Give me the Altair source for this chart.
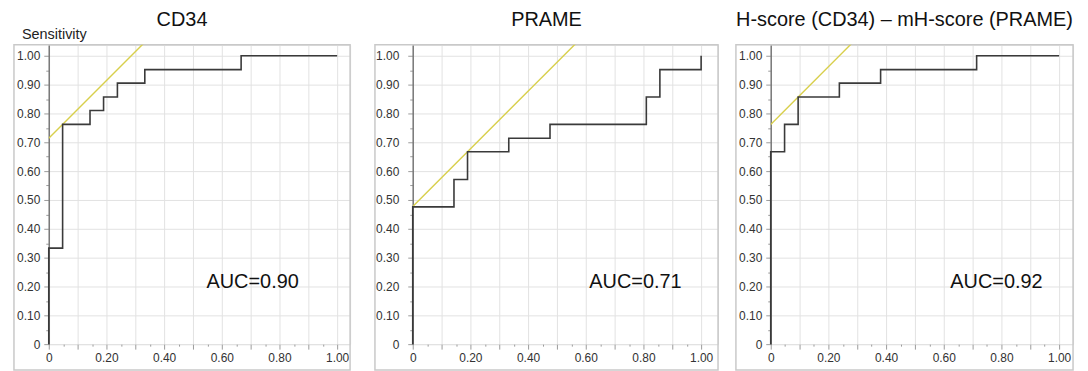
import altair as alt
import pandas as pd

# ---------------- data ----------------
titles = ["CD34", "PRAME", "H-score (CD34) \u2013 mH-score (PRAME)"]
auc_labels = ["AUC=0.90", "AUC=0.71", "AUC=0.92"]

# ROC points (1 - specificity, sensitivity)
cd34_fpr = [0, 0, 0.048, 0.143, 0.190, 0.238, 0.333, 0.667, 1.0]
cd34_tpr = [0, 0.333, 0.762, 0.810, 0.857, 0.905, 0.952, 1.0, 1.0]
prame_fpr = [0, 0, 0.143, 0.190, 0.333, 0.476, 0.810, 0.857, 1.0]
prame_tpr = [0, 0.476, 0.571, 0.667, 0.714, 0.762, 0.857, 0.952, 1.0]
combo_fpr = [0, 0, 0.048, 0.095, 0.238, 0.381, 0.714, 1.0]
combo_tpr = [0, 0.667, 0.762, 0.857, 0.905, 0.952, 1.0, 1.0]

# optimal cut-off points (tangent line of slope 1)
cut_fpr = [0.048, 0.190, 0.095]
cut_tpr = [0.762, 0.667, 0.857]

tick_values = [0, 0.05, 0.1, 0.15, 0.2, 0.25, 0.3, 0.35, 0.4, 0.45, 0.5,
               0.55, 0.6, 0.65, 0.7, 0.75, 0.8, 0.85, 0.9, 0.95, 1.0]

# ---------------- styling ----------------
FONT = "Liberation Sans"
PX_PER_UNIT = 290.0
H = 301
FRAME_BOTTOM = 327
FRAME_COLOR = "#c9c9c9"
GRID_COLOR = "#e2e2e2"

panel_widths = [303, 307, 304]
frame_offsets = [35, 38, 35]
label_pads = [4, 9, 4]
auc_pos = [(205, 239), (224, 239), (227, 239)]

minor_test = "round(datum.value*100) % 10 != 0"


def make_panel(k, fpr, tpr):
    W = panel_widths[k]
    off = frame_offsets[k]
    xdom = [0, W / PX_PER_UNIT]
    ydom = [0, H / PX_PER_UNIT]

    x_axis = alt.Axis(
        values=tick_values,
        labelExpr="(round(datum.value*100) % 20 == 0) ? (datum.value == 0 ? '0' : format(datum.value, '.2f')) : ''",
        domain=False,
        grid=True,
        gridColor=GRID_COLOR,
        gridWidth=1,
        gridOpacity={"condition": {"test": minor_test, "value": 0}, "value": 1},
        tickColor="#9a9a9a",
        tickWidth=1,
        tickSize={"condition": {"test": minor_test, "value": 2}, "value": 5},
        labelFont=FONT,
        labelFontSize=12,
        labelColor="#333333",
        labelPadding=3,
        labelFlush=False,
        labelOverlap=False,
        title=None,
    )
    y_axis = alt.Axis(
        values=tick_values,
        labelExpr="(round(datum.value*100) % 10 == 0) ? (datum.value == 0 ? '0' : format(datum.value, '.2f')) : ''",
        domain=True,
        domainColor="#7a7a7a",
        domainWidth=1.5,
        grid=True,
        gridColor=GRID_COLOR,
        gridWidth=1,
        gridOpacity={"condition": {"test": minor_test, "value": 0}, "value": 1},
        tickColor="#9a9a9a",
        tickWidth=1,
        tickSize={"condition": {"test": minor_test, "value": 3}, "value": 5},
        labelFont=FONT,
        labelFontSize=12,
        labelColor="#333333",
        labelPadding=label_pads[k],
        labelFlush=False,
        labelOverlap=False,
        title=None,
    )

    xs = alt.X("fpr:Q", scale=alt.Scale(domain=xdom, nice=False, zero=False), axis=x_axis)
    ys = alt.Y("tpr:Q", scale=alt.Scale(domain=ydom, nice=False, zero=False), axis=y_axis)

    roc = pd.DataFrame({"fpr": fpr, "tpr": tpr, "i": list(range(len(fpr)))})
    b = cut_tpr[k] - cut_fpr[k]
    tangent = pd.DataFrame({"fpr": [0.0, 1.0], "tpr": [b, 1.0 + b]})

    one = pd.DataFrame({"t": [titles[k]], "a": [auc_labels[k]]})

    frame = alt.Chart(one).mark_rect(fillOpacity=0, stroke=FRAME_COLOR, strokeWidth=1.5).encode(
        x=alt.value(-off), x2=alt.value(W), y=alt.value(0), y2=alt.value(FRAME_BOTTOM)
    )
    tangent_line = alt.Chart(tangent).mark_line(color="#d8cf4c", strokeWidth=1.4, clip=True).encode(
        x=xs, y=ys
    )
    step = alt.Chart(roc).mark_line(interpolate="step-after", color="#3a3a3a", strokeWidth=1.6).encode(
        x=xs, y=ys, order="i:Q"
    )
    title_txt = alt.Chart(one).mark_text(
        font=FONT, fontSize=20, color="#111111", align="center", baseline="top"
    ).encode(x=alt.value((W - off) / 2), y=alt.value(-35), text="t:N")
    auc_txt = alt.Chart(one).mark_text(
        font=FONT, fontSize=20, color="#111111", align="center", baseline="middle"
    ).encode(x=alt.value(auc_pos[k][0]), y=alt.value(auc_pos[k][1]), text="a:N")

    layers = [frame, tangent_line, step, title_txt, auc_txt]
    if k == 0:
        sens = alt.Chart(pd.DataFrame({"s": ["Sensitivity"]})).mark_text(
            font=FONT, fontSize=14.5, color="#222222", align="left", baseline="alphabetic"
        ).encode(x=alt.value(-27), y=alt.value(-6), text="s:N")
        spacer = alt.Chart(one).mark_rule(color="white", strokeWidth=1).encode(
            x=alt.value(W + 8), y=alt.value(0), y2=alt.value(5)
        )
        layers += [sens, spacer]

    return alt.layer(*layers).properties(width=W, height=H)


p1 = make_panel(0, cd34_fpr, cd34_tpr)
p2 = make_panel(1, prame_fpr, prame_tpr)
p3 = make_panel(2, combo_fpr, combo_tpr)

chart = alt.hconcat(p1, p2, p3, spacing=14).properties(
    padding={"left": 4, "top": 0, "right": 5, "bottom": 5}
).configure_view(strokeWidth=0).configure(background="white")

chart.save("out.html", embed_options={"renderer": "svg", "actions": False})
